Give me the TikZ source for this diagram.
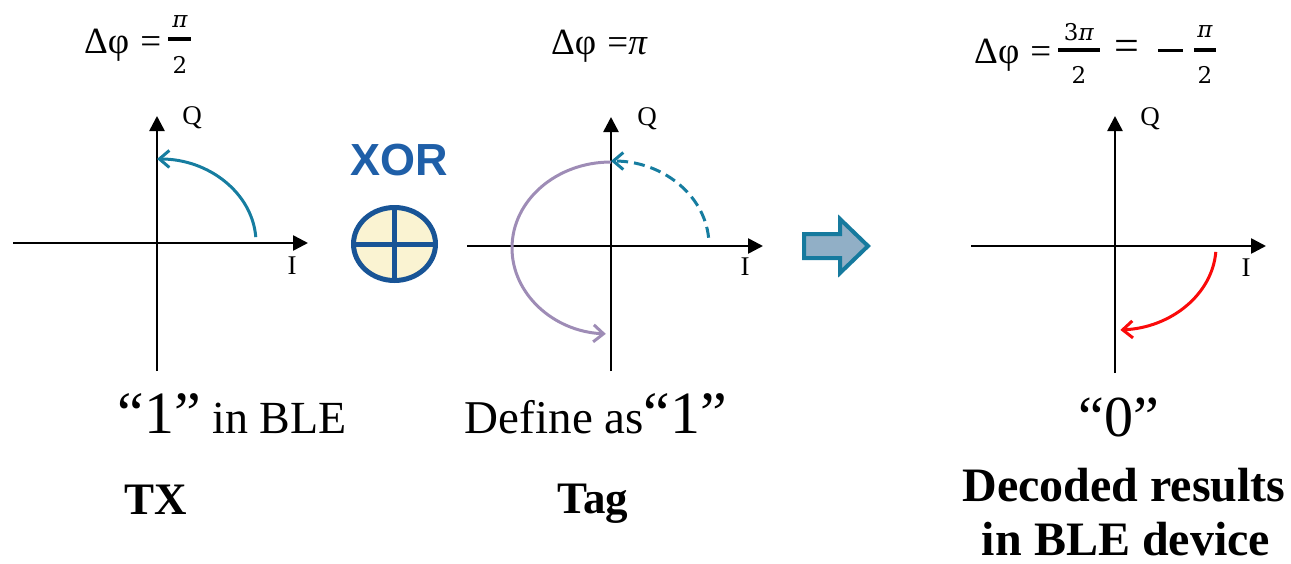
\documentclass[tikz,border=0pt]{standalone}
\usepackage{fontspec}
\setmainfont{Liberation Serif}
\newfontfamily\xorfont{Liberation Sans}
\newfontfamily\fracfont{DejaVu Serif}
\usetikzlibrary{arrows.meta,shapes.geometric}
\definecolor{arcblue}{RGB}{22,125,160}
\definecolor{arcpurple}{RGB}{158,140,182}
\definecolor{arcred}{RGB}{250,10,10}
\definecolor{xortext}{RGB}{31,95,168}
\definecolor{xoredge}{RGB}{24,84,150}
\definecolor{xorfill}{RGB}{250,243,210}
\definecolor{arrowedge}{RGB}{22,122,158}
\definecolor{arrowfill}{RGB}{145,175,198}
\begin{document}
\begin{tikzpicture}[x=1pt,y=-1pt,
  axis/.style={line width=2.6pt,-{Triangle[length=15pt,width=15pt]}},
  lbl/.style={font=\fontsize{27}{27}\selectfont,inner sep=0},
  formula/.style={font=\fontsize{37}{40}\selectfont,inner sep=0,anchor=base west},
  fracpart/.style={font=\fontsize{23}{23}\selectfont\fracfont,inner sep=0},
  phasearc/.style={line width=3pt,-{Straight Barb[length=10pt,width=17pt]}},
  caption/.style={inner sep=0,anchor=base},
  boldcap/.style={inner sep=0,anchor=base,font=\fontsize{45}{45}\selectfont\bfseries},
]
\useasboundingbox (0,0) rectangle (1291,563);

% ---------- Panel 1 (TX) ----------
\coordinate (h1l) at (13,243);  \coordinate (h1r) at (308,243);
\coordinate (v1b) at (157,371); \coordinate (v1t) at (157,116);
\draw[axis] (h1l) -- (h1r);
\draw[axis] (v1b) -- (v1t);
\node[lbl] (q1) at (192,118) {Q};
\node[lbl] (i1) at (292,266) {I};
\draw[phasearc,arcblue] (255.8,237.1) arc[start angle=-4,end angle=-90,x radius=99,y radius=84];
\node[formula] (f1) at (84,53) {Δφ\hspace{0.3em}=};
\node[fracpart] (f1n) at (180,22) {\textit{π}};
\node[fracpart] (f1d) at (180,65) {2};
\draw[line width=3.2pt] (168,39) -- (191,39);
\node[caption] (c1) at (232,433) {{\fontsize{60}{60}\selectfont “1”}{\fontsize{46}{46}\selectfont\ in BLE}};
\node[boldcap] (tx) at (156,514) {TX};

% ---------- XOR ----------
\node[inner sep=0,anchor=base,font=\fontsize{45}{45}\selectfont\xorfont\bfseries,text=xortext] (xortxt) at (399,175) {XOR};
\node[ellipse,draw=xoredge,fill=xorfill,line width=5pt,minimum width=82pt,minimum height=73pt,inner sep=0] (xor) at (394.5,244) {};
\draw[xoredge,line width=5pt] (xor.west) -- (xor.east);
\draw[xoredge,line width=5pt] (xor.north) -- (xor.south);

% ---------- Panel 2 (Tag) ----------
\coordinate (h2l) at (467,246);  \coordinate (h2r) at (763,246);
\coordinate (v2b) at (611,371);  \coordinate (v2t) at (611,117);
\draw[axis] (h2l) -- (h2r);
\draw[axis] (v2b) -- (v2t);
\node[lbl] (q2) at (647,119) {Q};
\node[lbl] (i2) at (745,267) {I};
\draw[phasearc,arcpurple] (611,162) arc[start angle=-90,end angle=-267,x radius=99,y radius=86];
\draw[phasearc,arcblue,dash pattern=on 11pt off 6pt] (708.6,237.7) arc[start angle=-5,end angle=-90,x radius=98,y radius=84];
\node[formula] (f2) at (551,54) {Δφ\hspace{0.3em}=\textit{π}};
\node[caption] (c2) at (596,433) {{\fontsize{47}{47}\selectfont Define as}{\fontsize{60}{60}\selectfont “1”}};
\node[boldcap] (tag) at (593,513) {Tag};

% ---------- Block arrow ----------
\draw[line width=4pt,draw=arrowedge,fill=arrowfill,line join=miter]
  (804,234) -- (840,234) -- (840,219) -- (868,246) -- (840,273) -- (840,258) -- (804,258) -- cycle;

% ---------- Panel 3 (Decoded) ----------
\coordinate (h3l) at (971,246);   \coordinate (h3r) at (1266,246);
\coordinate (v3b) at (1115,373);  \coordinate (v3t) at (1115,116);
\draw[axis] (h3l) -- (h3r);
\draw[axis] (v3b) -- (v3t);
\node[lbl] (q3) at (1150,119) {Q};
\node[lbl] (i3) at (1246,268) {I};
\draw[phasearc,arcred] (1215.8,251.9) arc[start angle=4,end angle=87,x radius=101,y radius=84];
\node[formula] (f3) at (974,63) {Δφ\hspace{0.3em}=};
\node[fracpart] (f3n) at (1079,32) {3\textit{π}};
\node[fracpart] (f3d) at (1079,75) {2};
\draw[line width=3.2pt] (1058,50) -- (1100,50);
\node[font=\fontsize{44}{44}\selectfont,inner sep=0] (f3eq) at (1127,50) {=};
\draw[line width=3pt] (1158,50) -- (1183,50);
\node[fracpart] (f3n2) at (1205,32) {\textit{π}};
\node[fracpart] (f3d2) at (1205,75) {2};
\draw[line width=3.2pt] (1194,50) -- (1216,50);
\node[caption,font=\fontsize{58}{58}\selectfont] (c3) at (1119,436) {“0”};
\node[caption,font=\fontsize{48}{48}\selectfont\bfseries] (dec1) at (1124,501) {Decoded results};
\node[caption,font=\fontsize{48}{48}\selectfont\bfseries] (dec2) at (1126,555) {in BLE device};
\end{tikzpicture}
\end{document}
